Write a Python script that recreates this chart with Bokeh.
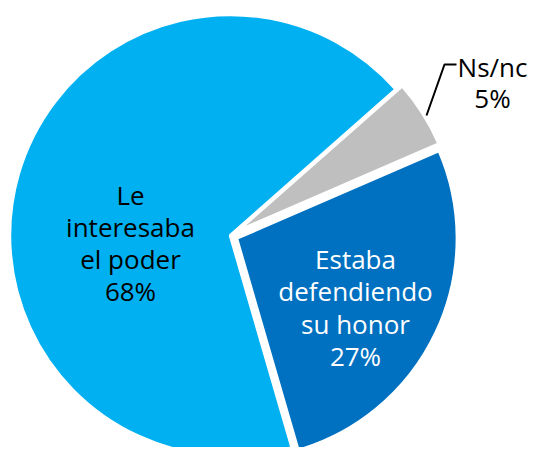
import math
from bokeh.plotting import figure
from bokeh.models import Range1d, ColumnDataSource
from bokeh.core.properties import value
from bokeh.embed import file_html
from bokeh.resources import INLINE

# ---- data ----
categories = ["Le interesaba el poder", "Estaba defendiendo su honor", "Ns/nc"]
values = [68, 27, 5]
pct_labels = ["68%", "27%", "5%"]
colors = ["#00B0F0", "#0070C0", "#BFBFBF"]
label_lines = [["Le", "interesaba", "el poder"], ["Estaba", "defendiendo", "su honor"], ["Ns/nc"]]
label_colors = ["black", "white", "black"]

# ---- layout ----
W, H = 529, 447
def sy(y):
    return H - y

cx, cy = 230, sy(235)
R = 221
start_deg = 41.4
explode = [0, 6.5, 7]

p = figure(width=W, height=H, output_backend="svg", toolbar_location=None,
           x_range=Range1d(0, W), y_range=Range1d(0, H), min_border=0)
p.axis.visible = False
p.grid.visible = False
p.outline_line_color = None
p.background_fill_color = "white"
p.border_fill_color = "white"

total = sum(values)
a0 = math.radians(start_deg)
xs, ys, starts, ends = [], [], [], []
for v, ex in zip(values, explode):
    a1 = a0 + 2 * math.pi * v / total
    mid = (a0 + a1) / 2
    xs.append(cx + ex * math.cos(mid))
    ys.append(cy + ex * math.sin(mid))
    starts.append(a0)
    ends.append(a1)
    a0 = a1

src = ColumnDataSource(dict(x=xs, y=ys, start=starts, end=ends, color=colors))
p.wedge(x="x", y="y", radius=R, start_angle="start", end_angle="end",
        direction="anticlock", fill_color="color", line_color="white",
        line_width=3.5, source=src)

# label positions (screen coords of first baseline)
label_pos = [(130, 194), (355, 258), (492, 66)]
line_hs = [32.3, 32.5, 31]
tx, ty, tt, tc = [], [], [], []
for lines, pct, (lx, ly), col, lh in zip(label_lines, pct_labels, label_pos, label_colors, line_hs):
    for i, t in enumerate(lines + [pct]):
        tx.append(lx)
        ty.append(sy(ly + i * lh))
        tt.append(t)
        tc.append(col)

p.text(x=tx, y=ty, text=tt, text_color=tc, text_align="center",
       text_baseline="alphabetic", text_font=value("Open Sans"),
       text_font_size="26px")

# leader line for small slice
p.line(x=[426, 444, 456], y=[sy(115), sy(64), sy(64)], line_color="black", line_width=2)

open("out.html", "w").write(file_html(p, INLINE))
